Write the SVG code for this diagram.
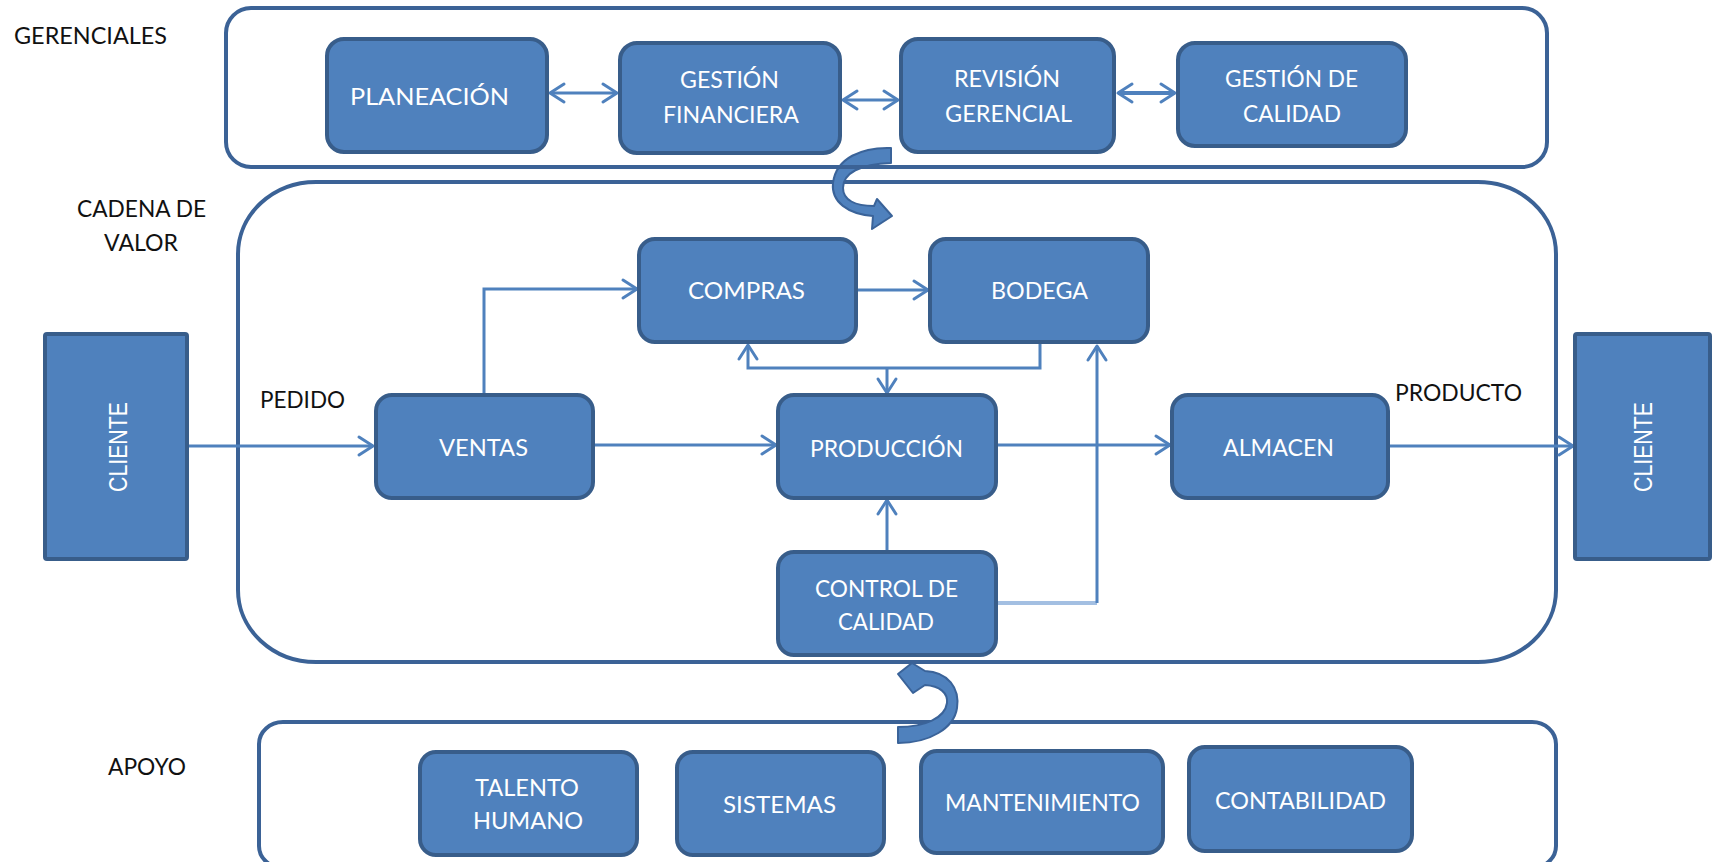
<svg xmlns="http://www.w3.org/2000/svg" width="1717" height="862" viewBox="0 0 1717 862">
  <defs>
    <style>
      .frame { fill: none; stroke: #3b6296; stroke-width: 4; }
      .box { fill: #4f81bd; stroke: #385d8a; stroke-width: 4; }
      .client { fill: #4f81bd; stroke: #385d8a; stroke-width: 4; }
      .t { fill: #ffffff; font-family: "Lato", "Liberation Sans", sans-serif; font-size: 24px; }
      .k { fill: #111111; font-family: "Lato", "Liberation Sans", sans-serif; font-size: 24px; }
      .c { fill: #ffffff; font-family: "Liberation Sans", "DejaVu Sans", sans-serif; font-size: 26px; }
      .conn { fill: none; stroke: #4f81bd; stroke-width: 3; }
      .light { fill: none; stroke: #a3bfe2; stroke-width: 4; }
      .curl { fill: #4f81bd; stroke: #3a6399; stroke-width: 2; stroke-linejoin: round; }
    </style>
    <marker id="chev" markerUnits="userSpaceOnUse" viewBox="-18 -12 22 24" refX="0" refY="0" markerWidth="22" markerHeight="24" orient="auto-start-reverse">
      <path d="M-14,-9 L0,0 L-14,9" fill="none" stroke="#4f81bd" stroke-width="3" stroke-linecap="round" stroke-linejoin="round"/>
    </marker>
  </defs>

  <rect width="1717" height="862" fill="#ffffff"/>

  <!-- section labels -->
  <g id="section-labels">
    <text class="k" x="14" y="44" textLength="153" lengthAdjust="spacingAndGlyphs">GERENCIALES</text>
    <text class="k" x="77" y="217" textLength="129" lengthAdjust="spacingAndGlyphs">CADENA DE</text>
    <text class="k" x="104" y="251" textLength="74" lengthAdjust="spacingAndGlyphs">VALOR</text>
    <text class="k" x="108" y="775" textLength="78" lengthAdjust="spacingAndGlyphs">APOYO</text>
    <text class="k" x="260" y="408" textLength="85" lengthAdjust="spacingAndGlyphs">PEDIDO</text>
    <text class="k" x="1395" y="401" textLength="127" lengthAdjust="spacingAndGlyphs">PRODUCTO</text>
  </g>

  <!-- section frames -->
  <g id="frame-cadena"><rect class="frame" x="238" y="182" width="1318" height="480" rx="78" ry="72"/></g>
  <g id="frame-apoyo"><rect class="frame" x="259" y="722" width="1297" height="146" rx="24" ry="22"/></g>

  <!-- curved links between sections -->
  <g id="curl-top">
    <path class="curl" d="M891,148 C862,147 836,158 833,183 C831,202 848,214 873,216 L872,229 L892,216 L877,199 L874,206 C855,206 843,200 843,188 C843,173 860,164 891,163 Z"/>
  </g>
  <g id="curl-bottom">
    <path class="curl" d="M898,727 C925,727 945,718 947,703 C948,693 940,686 925,685 L913,693 L898,674 L912,663 L925,671 C948,672 960,688 957,708 C954,728 930,743 898,743 Z"/>
  </g>

  <g id="frame-gerenciales"><rect class="frame" x="226" y="8" width="1321" height="159" rx="25" ry="25"/></g>

  <!-- connectors -->
  <g id="connectors">
    <path class="conn" d="M550,93 H617" marker-start="url(#chev)" marker-end="url(#chev)"/>
    <path class="conn" d="M843,100 H898" marker-start="url(#chev)" marker-end="url(#chev)"/>
    <path class="conn" d="M1118,93 H1175" style="stroke-width:4" marker-start="url(#chev)" marker-end="url(#chev)"/>
    <path class="conn" d="M189,446 H373" marker-end="url(#chev)"/>
    <path class="conn" d="M595,445 H776" marker-end="url(#chev)"/>
    <path class="conn" d="M484,393 V289 H637" marker-end="url(#chev)"/>
    <path class="conn" d="M858,290 H928" marker-end="url(#chev)"/>
    <path class="conn" d="M1040,344 V368 H748 V345" marker-end="url(#chev)"/>
    <path class="conn" d="M887,368 V393" marker-end="url(#chev)"/>
    <path class="conn" d="M887,550 V500" marker-end="url(#chev)"/>
    <path class="light" d="M998,603 H1097"/>
    <path class="conn" d="M1097,603 V346" marker-end="url(#chev)"/>
    <path class="conn" d="M998,445 H1170" marker-end="url(#chev)"/>
    <path class="conn" d="M1390,446 H1573" marker-end="url(#chev)"/>
  </g>

  <!-- management processes -->
  <g id="planeacion">
    <rect class="box" x="327" y="39" width="220" height="113" rx="17"/>
    <text class="t" x="350" y="105" textLength="159" lengthAdjust="spacingAndGlyphs">PLANEACIÓN</text>
  </g>
  <g id="gestion-financiera">
    <rect class="box" x="620" y="43" width="220" height="110" rx="17"/>
    <text class="t" x="680" y="88" textLength="99" lengthAdjust="spacingAndGlyphs">GESTIÓN</text>
    <text class="t" x="663" y="123" textLength="136" lengthAdjust="spacingAndGlyphs">FINANCIERA</text>
  </g>
  <g id="revision-gerencial">
    <rect class="box" x="901" y="39" width="213" height="113" rx="17"/>
    <text class="t" x="954" y="87" textLength="106" lengthAdjust="spacingAndGlyphs">REVISIÓN</text>
    <text class="t" x="945" y="122" textLength="127" lengthAdjust="spacingAndGlyphs">GERENCIAL</text>
  </g>
  <g id="gestion-calidad">
    <rect class="box" x="1178" y="43" width="228" height="103" rx="17"/>
    <text class="t" x="1225" y="87" textLength="133" lengthAdjust="spacingAndGlyphs">GESTIÓN DE</text>
    <text class="t" x="1243" y="122" textLength="98" lengthAdjust="spacingAndGlyphs">CALIDAD</text>
  </g>

  <!-- value chain -->
  <g id="cliente-entrada">
    <rect class="client" x="45" y="334" width="142" height="225" rx="2"/>
    <text class="c" transform="translate(127,492) rotate(-90)" x="0" y="0" textLength="90" lengthAdjust="spacingAndGlyphs">CLIENTE</text>
  </g>
  <g id="compras">
    <rect class="box" x="639" y="239" width="217" height="103" rx="16"/>
    <text class="t" x="688" y="299" textLength="117" lengthAdjust="spacingAndGlyphs">COMPRAS</text>
  </g>
  <g id="bodega">
    <rect class="box" x="930" y="239" width="218" height="103" rx="16"/>
    <text class="t" x="991" y="299" textLength="97" lengthAdjust="spacingAndGlyphs">BODEGA</text>
  </g>
  <g id="ventas">
    <rect class="box" x="376" y="395" width="217" height="103" rx="16"/>
    <text class="t" x="439" y="456" textLength="89" lengthAdjust="spacingAndGlyphs">VENTAS</text>
  </g>
  <g id="produccion">
    <rect class="box" x="778" y="395" width="218" height="103" rx="16"/>
    <text class="t" x="810" y="457" textLength="153" lengthAdjust="spacingAndGlyphs">PRODUCCIÓN</text>
  </g>
  <g id="almacen">
    <rect class="box" x="1172" y="395" width="216" height="103" rx="16"/>
    <text class="t" x="1223" y="456" textLength="111" lengthAdjust="spacingAndGlyphs">ALMACEN</text>
  </g>
  <g id="control-calidad">
    <rect class="box" x="778" y="552" width="218" height="103" rx="16"/>
    <text class="t" x="815" y="597" textLength="143" lengthAdjust="spacingAndGlyphs">CONTROL DE</text>
    <text class="t" x="838" y="630" textLength="96" lengthAdjust="spacingAndGlyphs">CALIDAD</text>
  </g>
  <g id="cliente-salida">
    <rect class="client" x="1575" y="334" width="135" height="225" rx="2"/>
    <text class="c" transform="translate(1652,492) rotate(-90)" x="0" y="0" textLength="90" lengthAdjust="spacingAndGlyphs">CLIENTE</text>
  </g>

  <!-- support processes -->
  <g id="talento-humano">
    <rect class="box" x="420" y="752" width="217" height="103" rx="16"/>
    <text class="t" x="475" y="796" textLength="104" lengthAdjust="spacingAndGlyphs">TALENTO</text>
    <text class="t" x="473" y="829" textLength="110" lengthAdjust="spacingAndGlyphs">HUMANO</text>
  </g>
  <g id="sistemas">
    <rect class="box" x="677" y="752" width="207" height="103" rx="16"/>
    <text class="t" x="723" y="813" textLength="113" lengthAdjust="spacingAndGlyphs">SISTEMAS</text>
  </g>
  <g id="mantenimiento">
    <rect class="box" x="921" y="751" width="242" height="102" rx="16"/>
    <text class="t" x="945" y="811" textLength="195" lengthAdjust="spacingAndGlyphs">MANTENIMIENTO</text>
  </g>
  <g id="contabilidad">
    <rect class="box" x="1189" y="747" width="223" height="104" rx="16"/>
    <text class="t" x="1215" y="809" textLength="171" lengthAdjust="spacingAndGlyphs">CONTABILIDAD</text>
  </g>
</svg>
